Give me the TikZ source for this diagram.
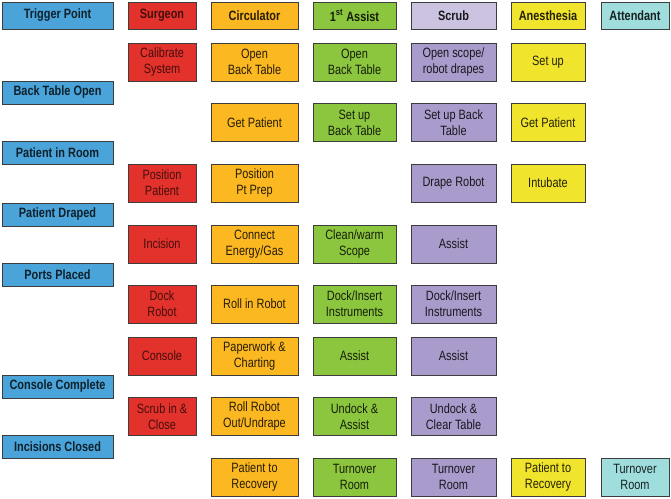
\documentclass[tikz,border=0pt]{standalone}
\usepackage{fontspec}
\setmainfont{Liberation Sans}[FakeStretch=0.81]
\usepackage{xcolor}
\usepackage{tikz}
\usetikzlibrary{positioning}

\definecolor{trigblue}{HTML}{4AA3D9}
\definecolor{surgred}{HTML}{E3312B}
\definecolor{circorange}{HTML}{FBB821}
\definecolor{asstgreen}{HTML}{8CC63E}
\definecolor{scrubhead}{HTML}{CBC3E0}
\definecolor{scrubviolet}{HTML}{A99BCB}
\definecolor{anesyellow}{HTML}{F0E42C}
\definecolor{attcyan}{HTML}{9FDEDD}
\definecolor{edgegray}{HTML}{3D3D3D}

\begin{document}
\begin{tikzpicture}[x=1pt, y=-1pt,
  box/.style={rectangle, draw=edgegray, line width=0.9pt, inner sep=0pt, align=center,
    minimum height=38pt, font=\fontsize{13.5}{16}\selectfont},
  head/.style={minimum height=27pt, font=\fontsize{13.5}{16}\selectfont\bfseries},
  trig/.style={box, minimum height=23pt, minimum width=111pt, fill=trigblue,
    text=trigblue!20!black, font=\fontsize{13.5}{16}\selectfont\bfseries},
  surg/.style={box, minimum width=68pt, fill=surgred, text=surgred!30!black},
  circ/.style={box, minimum width=87pt, fill=circorange, text=circorange!15!black},
  asst/.style={box, minimum width=83pt, fill=asstgreen, text=asstgreen!15!black},
  scrub/.style={box, minimum width=85pt, fill=scrubviolet, text=scrubviolet!15!black},
  anes/.style={box, minimum width=74pt, fill=anesyellow, text=anesyellow!15!black},
  att/.style={box, minimum width=68pt, fill=attcyan, text=attcyan!15!black}]
\useasboundingbox (0,0) rectangle (671,498);

% header row
\node [trig, head] (TP) at (57.5, 15.5) {Trigger Point};
\node [surg, head] (SH) at (162, 15.5) {Surgeon};
\node [circ, head] (CH) at (254.5, 15.5) {Circulator};
\node [asst, head] (AH) at (354.5, 15.5) {1\textsuperscript{st} Assist};
\node [scrub, head, fill=scrubhead] (RH) at (453.5, 15.5) {Scrub};
\node [anes, head] (NH) at (548, 15.5) {Anesthesia};
\node [att, head] (TH) at (635, 15.5) {Attendant};

% trigger points
\node [trig] (T1) at (57.5, 92.5) {Back Table Open};
\node [trig] (T2) at (57.5, 153) {Patient in Room};
\node [trig] (T3) at (57.5, 214.5) {Patient Draped};
\node [trig] (T4) at (57.5, 275) {Ports Placed};
\node [trig] (T5) at (57.5, 386.5) {Console Complete};
\node [trig] (T6) at (57.5, 447) {Incisions Closed};

% surgeon
\node [surg] (S1) at (162, 62) {Calibrate\\System};
\node [surg] (S3) at (162, 183) {Position\\Patient};
\node [surg] (S4) at (162, 244) {Incision};
\node [surg] (S5) at (162, 304) {Dock\\Robot};
\node [surg] (S6) at (162, 356) {Console};
\node [surg] (S7) at (162, 416.5) {Scrub in \&\\Close};

% circulator
\node [circ] (C1) at (254.5, 62) {Open\\Back Table};
\node [circ] (C2) at (254.5, 122.5) {Get Patient};
\node [circ] (C3) at (254.5, 183) {Position\\Pt Prep};
\node [circ] (C4) at (254.5, 244) {Connect\\Energy/Gas};
\node [circ] (C5) at (254.5, 304) {Roll in Robot};
\node [circ] (C6) at (254.5, 356) {Paperwork \&\\Charting};
\node [circ] (C7) at (254.5, 416.5) {Roll Robot\\Out/Undrape};
\node [circ] (C8) at (254.5, 477) {Patient to\\Recovery};

% 1st assist
\node [asst] (A1) at (354.5, 62) {Open\\Back Table};
\node [asst] (A2) at (354.5, 122.5) {Set up\\Back Table};
\node [asst] (A4) at (354.5, 244) {Clean/warm\\Scope};
\node [asst] (A5) at (354.5, 304) {Dock/Insert\\Instruments};
\node [asst] (A6) at (354.5, 356) {Assist};
\node [asst] (A7) at (354.5, 416.5) {Undock \&\\Assist};
\node [asst] (A8) at (354.5, 477) {Turnover\\Room};

% scrub
\node [scrub] (R1) at (453.5, 62) {Open scope/\\robot drapes};
\node [scrub] (R2) at (453.5, 122.5) {Set up Back\\Table};
\node [scrub] (R3) at (453.5, 183) {Drape Robot};
\node [scrub] (R4) at (453.5, 244) {Assist};
\node [scrub] (R5) at (453.5, 304) {Dock/Insert\\Instruments};
\node [scrub] (R6) at (453.5, 356) {Assist};
\node [scrub] (R7) at (453.5, 416.5) {Undock \&\\Clear Table};
\node [scrub] (R8) at (453.5, 477) {Turnover\\Room};

% anesthesia
\node [anes] (N1) at (548, 62) {Set up};
\node [anes] (N2) at (548, 122.5) {Get Patient};
\node [anes] (N3) at (548, 183) {Intubate};
\node [anes] (N8) at (548, 477) {Patient to\\Recovery};

% attendant
\node [att] (H8) at (635, 477) {Turnover\\Room};
\end{tikzpicture}
\end{document}
